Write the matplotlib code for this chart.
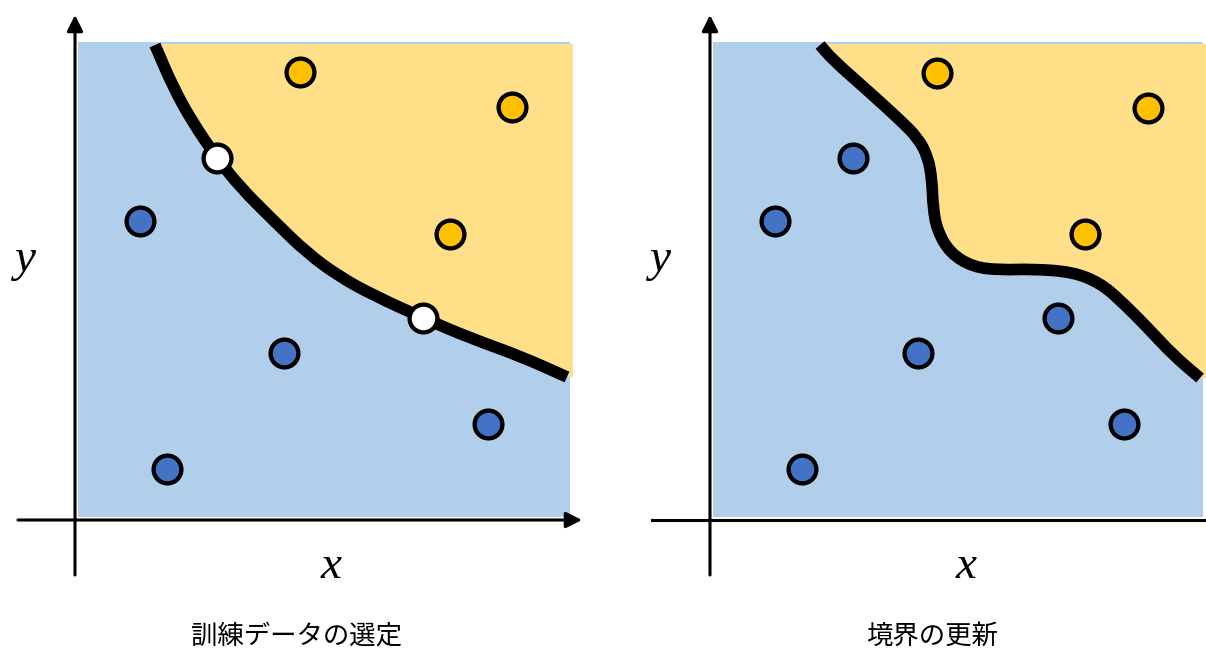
import numpy as np
import matplotlib.pyplot as plt
from matplotlib.path import Path
from matplotlib.patches import PathPatch

plt.rcParams['font.family'] = ['Noto Sans CJK JP', 'DejaVu Sans']

# boundary curves (units: 1 = 50 px, origin at the axes cross)
left_cx = [1.60, 1.96, 2.36, 2.84, 3.30, 3.96, 4.64, 5.30, 5.96, 6.96, 7.90, 8.90, 9.84]
left_cy = [9.50, 8.66, 7.94, 7.24, 6.66, 6.00, 5.34, 4.86, 4.50, 4.04, 3.64, 3.28, 2.86]

right_cx = [2.20, 2.46, 3.14, 3.80, 4.16, 4.36, 4.44, 4.46, 4.54, 4.80, 5.26, 5.80,
            6.46, 7.26, 7.80, 8.20, 8.74, 9.26, 9.80]
right_cy = [9.50, 9.20, 8.60, 8.00, 7.64, 7.26, 6.80, 6.26, 5.80, 5.34, 5.06, 5.00,
            5.02, 4.96, 4.74, 4.40, 3.86, 3.30, 2.84]

# data points
left_yellow_x = [4.50, 8.74, 7.50]
left_yellow_y = [8.96, 8.26, 5.72]
left_blue_x = [1.30, 4.18, 1.84, 8.26]
left_blue_y = [5.98, 3.34, 1.02, 1.92]
left_white_x = [2.84, 6.96]
left_white_y = [7.24, 4.04]

right_yellow_x = [4.54, 8.76, 7.50]
right_yellow_y = [8.94, 8.24, 5.72]
right_blue_x = [2.86, 1.30, 6.96, 4.16, 1.84, 8.28]
right_blue_y = [7.24, 5.98, 4.04, 3.34, 1.02, 1.92]

titles = ["訓練データの選定", "境界の更新"]

blue_fill = "#B1CFEA"
yellow_fill = "#FFE089"
blue_dot = "#4472C4"
yellow_dot = "#FFC000"

fig = plt.figure(figsize=(12.06, 6.5), dpi=100)
ax1 = fig.add_axes([0, 0, 0.5, 1])
ax2 = fig.add_axes([0.5, 0, 0.5, 1])
ax1.set_xlim(-1.5, 10.56)
ax2.set_xlim(-2.14, 9.92)


def smooth_path(xs, ys):
    # quadratic bezier through midpoints, read points as control points
    p = np.column_stack([xs, ys])
    verts = [p[0], (p[0] + p[1]) / 2]
    codes = [Path.MOVETO, Path.LINETO]
    for i in range(1, len(p) - 1):
        verts += [p[i], (p[i] + p[i + 1]) / 2]
        codes += [Path.CURVE3, Path.CURVE3]
    verts.append(p[-1])
    codes.append(Path.LINETO)
    return verts, codes


def panel(ax, cx, cy, right, pts, title, xaxis_end, head):
    ax.set_ylim(-2.6, 10.4)
    ax.axis('off')
    top = 9.52
    # blue background
    ax.fill([0.06, right, right, 0.06], [0.06, 0.06, 9.56, 9.56],
            color=blue_fill, lw=0, zorder=1)
    verts, codes = smooth_path(cx, cy)
    # yellow region above the boundary
    fverts = verts + [(right + 0.06, cy[-1]), (right + 0.06, top), (cx[0], top), (0, 0)]
    fcodes = codes + [Path.LINETO, Path.LINETO, Path.LINETO, Path.CLOSEPOLY]
    ax.add_patch(PathPatch(Path(fverts, fcodes), fc=yellow_fill, lw=0, zorder=2))
    ax.add_patch(PathPatch(Path(verts, codes), fc='none', ec='black', lw=8.4,
                           capstyle='butt', joinstyle='round', zorder=3))

    # axes arrows
    ax.annotate('', xy=(0, 10.1), xytext=(0, -1.1),
                arrowprops=dict(arrowstyle='-|>', lw=2.2, color='black',
                                mutation_scale=24, shrinkA=0, shrinkB=0))
    if head:
        ax.annotate('', xy=(xaxis_end, 0), xytext=(-1.14, 0),
                    arrowprops=dict(arrowstyle='-|>', lw=2.2, color='black',
                                    mutation_scale=24, shrinkA=0, shrinkB=0))
    else:
        ax.plot([-1.16, xaxis_end], [0, 0], color='black', lw=2.2)

    for xs, ys, c in pts:
        ax.plot(xs, ys, 'o', ms=20, mfc=c, mec='black', mew=3.1, zorder=5)

    ax.text(5.12, -0.94, 'x', fontsize=34, style='italic',
            family='Liberation Serif', ha='center', va='center')
    ax.text(-1.0, 5.2, 'y', fontsize=34, style='italic',
            family='Liberation Serif', ha='center', va='center')
    ax.text(4.44, -2.32, title, fontsize=19, ha='center', va='center')


panel(ax1, left_cx, left_cy, 9.9,
      [(left_yellow_x, left_yellow_y, yellow_dot),
       (left_blue_x, left_blue_y, blue_dot),
       (left_white_x, left_white_y, 'white')],
      titles[0], 10.14, True)
panel(ax2, right_cx, right_cy, 9.86,
      [(right_yellow_x, right_yellow_y, yellow_dot),
       (right_blue_x, right_blue_y, blue_dot)],
      titles[1], 9.92, False)

fig.savefig('out.png', dpi=100)
